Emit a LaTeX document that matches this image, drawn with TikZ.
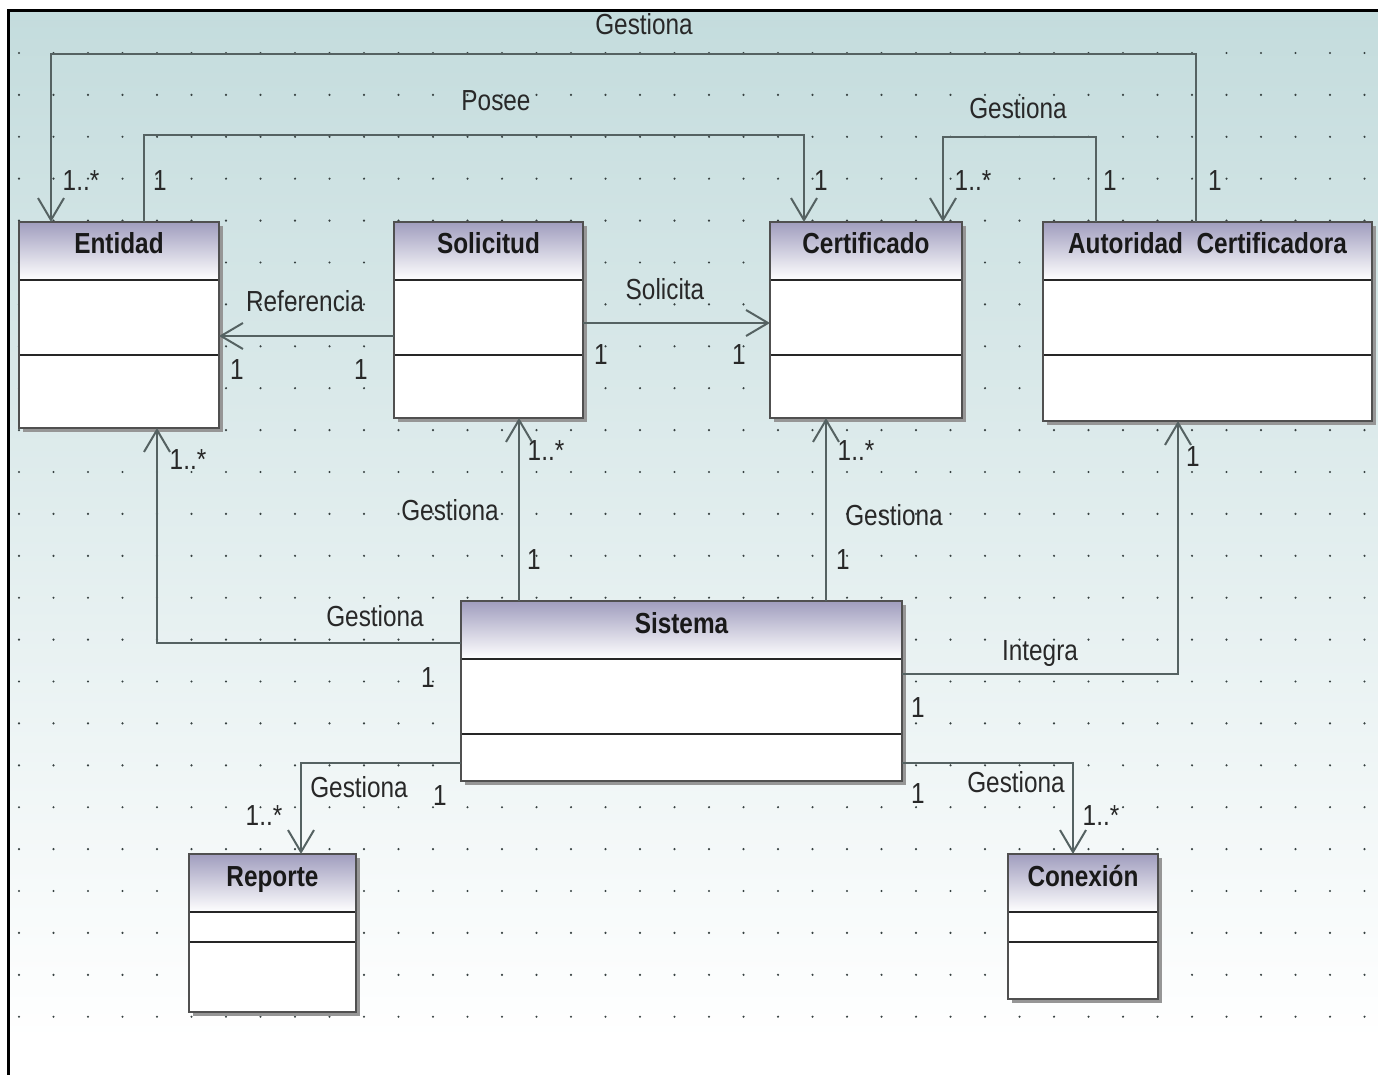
\documentclass[tikz,border=0pt]{standalone}
\usepackage{fontspec}
\setmainfont[FakeStretch=0.84]{Liberation Sans}
\usetikzlibrary{arrows.meta}
\definecolor{bgtop}{RGB}{196,220,221}
\definecolor{bgmid}{RGB}{222,235,236}
\definecolor{hdtop}{RGB}{160,157,190}
\definecolor{linec}{RGB}{85,98,98}
\definecolor{boxc}{RGB}{80,80,80}
\definecolor{txtc}{RGB}{40,40,40}
\definecolor{dotc}{RGB}{55,65,65}
\definecolor{shadowc}{RGB}{150,150,150}
\newcommand\umlclass[8]{%
  \fill[shadowc] ({#2+4},{#3+4}) rectangle ({#4+4},{#5+4});
  \node[classbox, minimum width={#4-#2}, minimum height={#5-#3}] (#1) at ({(#2+#4)/2},{(#3+#5)/2}) {};
  \shade[top color=hdtop, bottom color=white] ({#2},{#3}) rectangle ({#4},{#6});
  \draw[sepline] ({#2},{#6}) -- ({#4},{#6});
  \draw[sepline] ({#2},{#7}) -- ({#4},{#7});
  \draw[draw=boxc, line width=2pt] (#1.north west) rectangle (#1.south east);
  \node[ttl, anchor=base] (#1-t) at ({(#2+#4)/2},{#3+32}) {#8};
}
\begin{document}
\begin{tikzpicture}[x=1pt,y=-1pt,
  conn/.style={draw=linec, line width=2pt},
  arr/.style={conn, -{Straight Barb[length=22pt,width=26pt]}},
  lbl/.style={text=txtc, font=\fontsize{29}{34}\selectfont, inner sep=0, anchor=base},
  ttl/.style={text=black!90, font=\fontsize{29}{34}\selectfont\bfseries, inner sep=0},
  classbox/.style={rectangle, draw=boxc, fill=white, line width=2pt, inner sep=0, outer sep=0},
  sepline/.style={draw=black!85, line width=2.5pt}]
\useasboundingbox (0,0) rectangle (1378,1075);
\fill[white] (0,0) rectangle (1378,1075);
\shade[top color=bgtop, middle color=bgmid, bottom color=white] (10,12) rectangle (1378,1040);
\foreach \i in {0,...,39} \foreach \j in {0,...,23} \fill[dotc] ({19+34.5*\i},{53+41.9*\j}) circle (1.2);
\draw[line width=3pt, black] (8.5,1075) -- (8.5,10.5) -- (1378,10.5);

\umlclass{ent}{19}{222}{219}{428}{280}{355}{Entidad}
\umlclass{sol}{394}{222}{583}{418}{280}{355}{Solicitud}
\umlclass{cert}{770}{222}{962}{418}{280}{355}{Certificado}
\umlclass{aut}{1043}{222}{1372}{421}{280}{355}{Autoridad~~Certificadora}
\umlclass{sis}{461}{601}{902}{781}{659}{734}{Sistema}
\umlclass{rep}{189}{854}{356}{1012}{912}{942}{Reporte}
\umlclass{con}{1008}{854}{1158}{999}{912}{942}{Conexión}

\coordinate (a1) at (1196,54); \coordinate (a2) at (51,54);
\draw[arr] (aut.north -| a1) -- (a1) -- (a2) -- (ent.north -| a2);
\coordinate (b1) at (144,135); \coordinate (b2) at (804,135);
\draw[arr] (ent.north -| b1) -- (b1) -- (b2) -- (cert.north -| b2);
\coordinate (c1) at (1096,137); \coordinate (c2) at (943,137);
\draw[arr] (aut.north -| c1) -- (c1) -- (c2) -- (cert.north -| c2);
\coordinate (d1) at (300,336);
\draw[arr] (sol.west |- d1) -- (ent.east |- d1);
\coordinate (e1) at (676,323);
\draw[arr] (sol.east |- e1) -- (cert.west |- e1);
\coordinate (f1) at (519,500);
\draw[arr] (sis.north -| f1) -- (sol.south -| f1);
\coordinate (g1) at (826,500);
\draw[arr] (sis.north -| g1) -- (cert.south -| g1);
\coordinate (h1) at (157,643);
\draw[arr] (sis.west |- h1) -- (h1) -- (ent.south -| h1);
\coordinate (i1) at (1178,674);
\draw[arr] (sis.east |- i1) -- (i1) -- (aut.south -| i1);
\coordinate (j1) at (301,763);
\draw[arr] (sis.west |- j1) -- (j1) -- (rep.north -| j1);
\coordinate (k1) at (1073,763);
\draw[arr] (sis.east |- k1) -- (k1) -- (con.north -| k1);

\node[lbl] (l1) at (644,35) {Gestiona};
\node[lbl] (l2) at (496,111) {Posee};
\node[lbl] (l3) at (1018,119) {Gestiona};
\node[lbl] (l4) at (305,311) {Referencia};
\node[lbl] (l5) at (665,299) {Solicita};
\node[lbl] (l6) at (450,520) {Gestiona};
\node[lbl] (l7) at (894,525) {Gestiona};
\node[lbl] (l8) at (375,626) {Gestiona};
\node[lbl] (l9) at (1040,660) {Integra};
\node[lbl] (l10) at (359,797) {Gestiona};
\node[lbl] (l11) at (1016,792) {Gestiona};

\node[lbl] (m1) at (81,191) {1..*};
\node[lbl] (m2) at (160,191) {1};
\node[lbl] (m3) at (821,191) {1};
\node[lbl] (m4) at (973,191) {1..*};
\node[lbl] (m5) at (1110,191) {1};
\node[lbl] (m6) at (1215,191) {1};
\node[lbl] (m7) at (237,379) {1};
\node[lbl] (m8) at (361,379) {1};
\node[lbl] (m9) at (601,364) {1};
\node[lbl] (m10) at (739,364) {1};
\node[lbl] (m11) at (188,469) {1..*};
\node[lbl] (m12) at (546,460) {1..*};
\node[lbl] (m13) at (856,460) {1..*};
\node[lbl] (m14) at (1193,466) {1};
\node[lbl] (m15) at (534,569) {1};
\node[lbl] (m16) at (843,569) {1};
\node[lbl] (m17) at (428,687) {1};
\node[lbl] (m18) at (918,717) {1};
\node[lbl] (m19) at (440,805) {1};
\node[lbl] (m20) at (918,803) {1};
\node[lbl] (m21) at (264,825) {1..*};
\node[lbl] (m22) at (1101,825) {1..*};
\end{tikzpicture}
\end{document}
